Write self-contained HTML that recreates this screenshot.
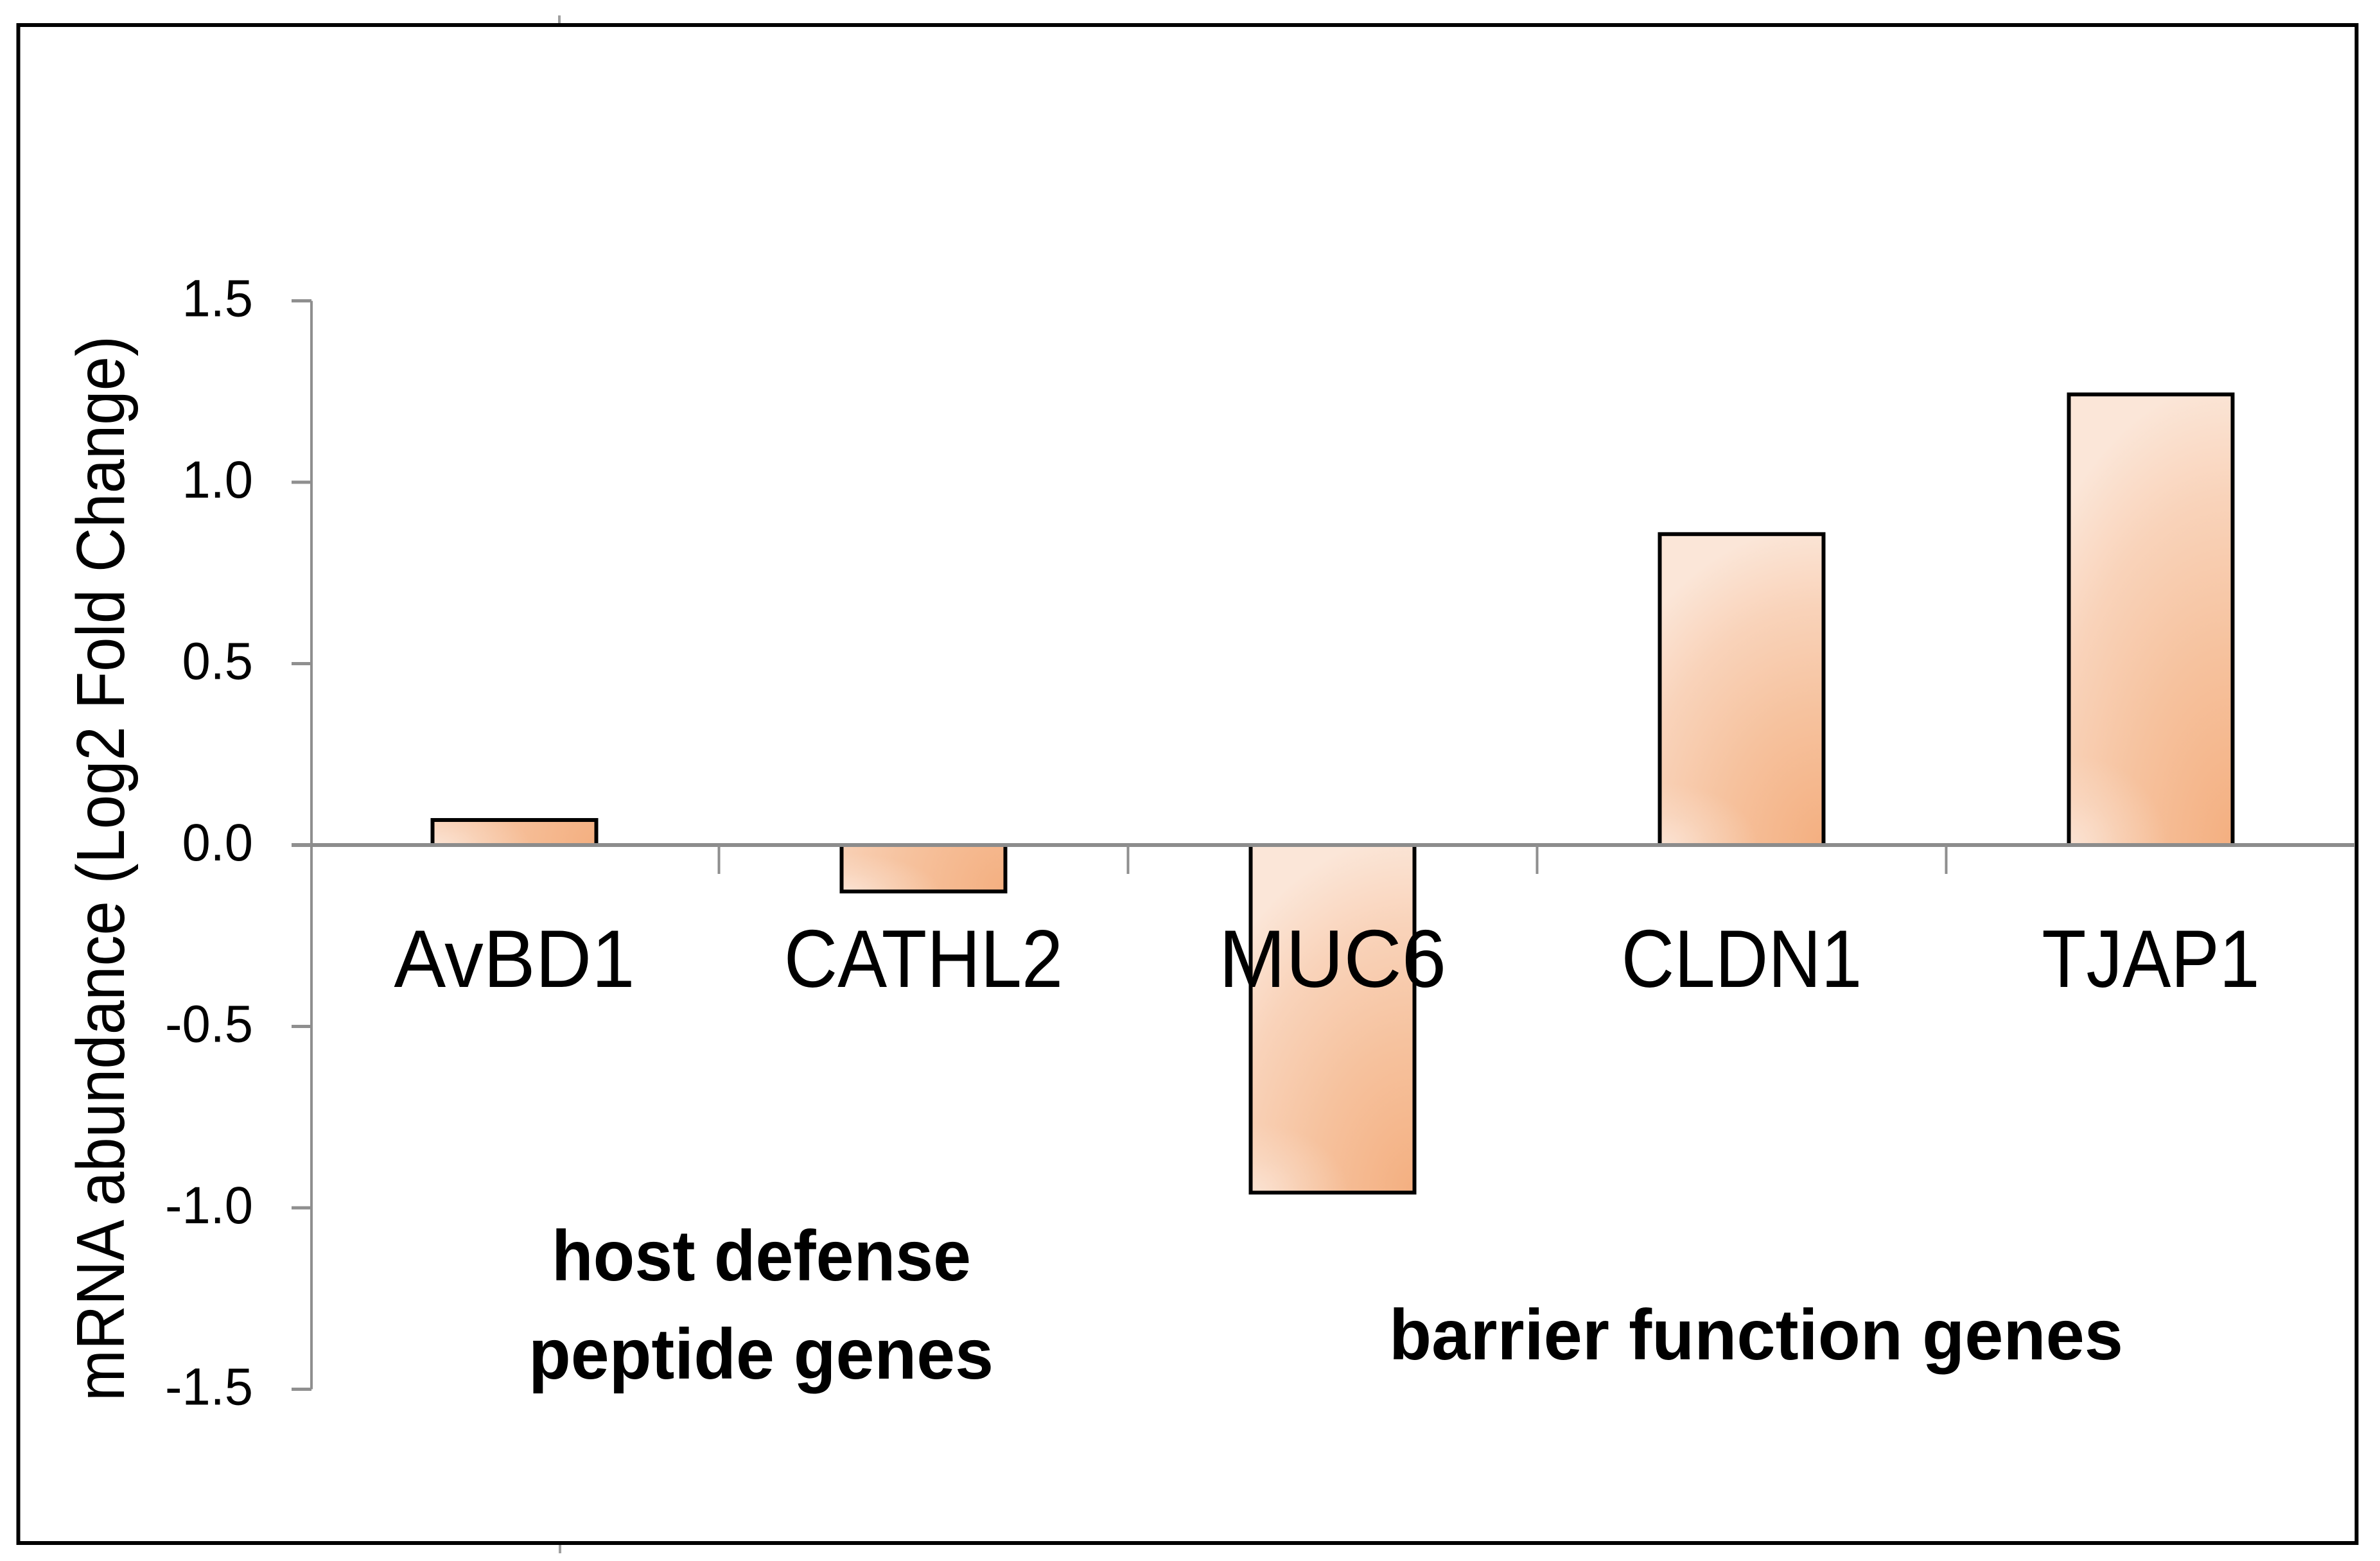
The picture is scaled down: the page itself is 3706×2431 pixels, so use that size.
<!DOCTYPE html>
<html lang="en">
<head>
<meta charset="utf-8">
<title>mRNA abundance chart</title>
<style>
html,body{margin:0;padding:0;background:#fff;width:3706px;height:2431px;overflow:hidden}
svg{display:block}
text{font-family:"Liberation Sans",sans-serif;fill:#000}
</style>
</head>
<body>
<svg id="chart" xmlns="http://www.w3.org/2000/svg" width="3706" height="2431" viewBox="0 0 3706 2431">
  <defs id="defs"></defs>
  <rect x="0" y="0" width="3706" height="2431" fill="#ffffff"/>
  <line x1="871" y1="24" x2="871" y2="40" stroke="#a0a0a0" stroke-width="4"/>
  <line x1="872" y1="2403" x2="872" y2="2419" stroke="#a0a0a0" stroke-width="4"/>
  <rect x="28.5" y="39" width="3641" height="2364" fill="none" stroke="#000" stroke-width="6"/>
  <g id="bars"></g>
  <g id="axes"></g>
  <g id="labels"></g>
  <text transform="translate(193,2182) rotate(-90)" font-size="106" textLength="1659" lengthAdjust="spacingAndGlyphs">mRNA abundance (Log2 Fold Change)</text>
  <text x="859" y="1994" font-size="111" font-weight="bold" textLength="653" lengthAdjust="spacingAndGlyphs">host defense</text>
  <text x="823" y="2147" font-size="111" font-weight="bold" textLength="724" lengthAdjust="spacingAndGlyphs">peptide genes</text>
  <text x="2163" y="2117" font-size="111" font-weight="bold" textLength="1143" lengthAdjust="spacingAndGlyphs">barrier function genes</text>
</svg>
<script>
const categories = ['AvBD1', 'CATHL2', 'MUC6', 'CLDN1', 'TJAP1'];
const foldChange = [0.069, -0.128, -0.958, 0.857, 1.242];
const yTicks = [1.5, 1.0, 0.5, 0.0, -0.5, -1.0, -1.5];

const NS = 'http://www.w3.org/2000/svg';
const axisX = 485, bandOrigin = 482.5, bandWidth = 637, barWidth = 255;
const zeroY = 1316, unitPx = 565;
const labelFit = {AvBD1: 0.955, CATHL2: 0.91, MUC6: 0.985, CLDN1: 0.90, TJAP1: 0.89};
function yScale(v) { return zeroY - v * unitPx; }
function xBand(i) { return bandOrigin + bandWidth * i; }
function xCenter(i) { return xBand(i) + bandWidth / 2; }
function mk(tag, attrs, parent) {
  const el = document.createElementNS(NS, tag);
  for (const k in attrs) el.setAttribute(k, attrs[k]);
  parent.appendChild(el);
  return el;
}
const defs = document.getElementById('defs');
const barsG = document.getElementById('bars');
const axesG = document.getElementById('axes');
const labelsG = document.getElementById('labels');

function stops(grad, list) {
  list.forEach(function (s) {
    mk('stop', {offset: s[0], 'stop-color': s[1], 'stop-opacity': s[2] === undefined ? 1 : s[2]}, grad);
  });
}

categories.forEach(function (name, i) {
  const v = foldChange[i];
  const top = Math.min(yScale(v), zeroY);
  const h = Math.abs(yScale(v) - zeroY);
  const left = xCenter(i) - barWidth / 2;
  const right = left + barWidth, bottom = top + h;
  const ry = Math.max(h, 400) * 1.03, rx = barWidth * 1.5;

  const g1 = mk('radialGradient', {id: 'fill' + i, gradientUnits: 'userSpaceOnUse', cx: 0, cy: 0, r: 1,
    gradientTransform: 'translate(' + right + ',' + bottom + ') scale(' + rx + ',' + ry + ')'}, defs);
  stops(g1, [[0, '#F4AF80'], [0.42, '#F6C29E'], [0.75, '#F9D3BA'], [1, '#FBE6D8']]);

  const g2 = mk('radialGradient', {id: 'corner' + i, gradientUnits: 'userSpaceOnUse', cx: 0, cy: 0, r: 1,
    gradientTransform: 'translate(' + left + ',' + bottom + ') scale(' + (barWidth * 0.6) + ',' + Math.max(h * 0.2, 60) + ')'}, defs);
  stops(g2, [[0, '#FBE6D8', 0.85], [0.5, '#FBE6D8', 0.35], [1, '#FBE6D8', 0]]);

  const bar = mk('rect', {x: left, y: top, width: barWidth, height: h, fill: 'url(#fill' + i + ')', stroke: '#000', 'stroke-width': 6}, barsG);
  
  

  const corner = mk('rect', {x: left + 3, y: top + 3, width: barWidth - 6, height: Math.max(h - 6, 0), fill: 'url(#corner' + i + ')'}, barsG);
  
  

  const label = mk('text', {'font-size': 127, 'text-anchor': 'middle', transform: 'translate(' + xCenter(i) + ',1537) scale(' + labelFit[name] + ',1)'}, labelsG);
  label.textContent = name;
  
  
});

const yAxis = mk('line', {x1: axisX, y1: yScale(yTicks[0]), x2: axisX, y2: yScale(yTicks[yTicks.length - 1]), stroke: '#8f8f8f', 'stroke-width': 4}, axesG);



const xAxis = mk('line', {x1: axisX - 31, y1: yScale(0), x2: 3667, y2: yScale(0), stroke: '#8c8c8c', 'stroke-width': 6}, axesG);



yTicks.forEach(function (t) {
  const y = yScale(t);
  const tick = mk('line', {x1: axisX - 31, y1: y, x2: axisX, y2: y, stroke: '#8f8f8f', 'stroke-width': 5}, axesG);
  
  

  const label = mk('text', {'font-size': 82, 'text-anchor': 'end', transform: 'translate(394,' + (y + 24) + ') scale(0.97,1)'}, labelsG);
  label.textContent = t.toFixed(1);
  
  
});

for (let i = 1; i < categories.length; i++) {
  const tick = mk('line', {x1: xBand(i), y1: yScale(0), x2: xBand(i), y2: yScale(0) + 45, stroke: '#8f8f8f', 'stroke-width': 4}, axesG);
  
  
}
</script>
</body>
</html>
